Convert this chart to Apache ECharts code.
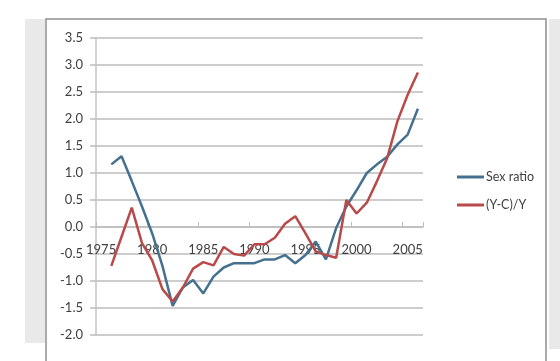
<!DOCTYPE html>
<html>
<head>
<meta charset="utf-8">
<script src="https://cdn.jsdelivr.net/npm/echarts@6/dist/echarts.min.js"></script>
<style>
html,body{margin:0;padding:0;background:#fff;}
#c{width:560px;height:361px;}
</style>
</head>
<body>
<div id="c"></div>
<script>
var years = ['1975','1976','1977','1978','1979','1980','1981','1982','1983','1984','1985','1986','1987','1988','1989','1990','1991','1992','1993','1994','1995','1996','1997','1998','1999','2000','2001','2002','2003','2004','2005','2006'];
var sexRatio = [null, 1.16, 1.31, 0.85, 0.38, -0.12, -0.72, -1.46, -1.12, -0.98, -1.23, -0.92, -0.75, -0.67, -0.67, -0.67, -0.6, -0.6, -0.52, -0.67, -0.52, -0.27, -0.6, -0.02, 0.38, 0.68, 1.0, 1.16, 1.3, 1.53, 1.71, 2.19];
var ycY = [null, -0.72, -0.18, 0.36, -0.3, -0.62, -1.15, -1.38, -1.12, -0.77, -0.65, -0.71, -0.37, -0.5, -0.53, -0.32, -0.32, -0.2, 0.06, 0.2, -0.12, -0.45, -0.52, -0.57, 0.5, 0.25, 0.45, 0.85, 1.28, 1.96, 2.45, 2.86];
var seriesNames = ['Sex ratio', '(Y-C)/Y'];
var yMin = -2, yMax = 3.5;

var gridTop = 38, gridBottom = 26, chartH = 361;
var plotH = chartH - gridTop - gridBottom;
var zeroOffset = -plotH * (0 - yMin) / (yMax - yMin);

var chart = echarts.init(document.getElementById('c'), null, {renderer: 'canvas'});
var font = 'Lato, "Open Sans", sans-serif';
chart.setOption({
  animation: false,
  backgroundColor: '#fff',
  graphic: [
    {type: 'rect', shape: {x: 25, y: 19, width: 20, height: 324}, style: {fill: '#e9e9e9'}, z: -10},
    {type: 'rect', shape: {x: 549, y: 19, width: 11, height: 330}, style: {fill: '#e9e9e9'}, z: -10},
    {type: 'polyline', shape: {points: [[46, 362], [46, 19], [546, 19], [546, 362]]}, style: {stroke: '#8f8f8f', lineWidth: 1.5, fill: null}, z: -5}
  ],
  grid: {left: 96, right: 137, top: gridTop, bottom: gridBottom, containLabel: false},
  legend: {
    orient: 'vertical',
    left: 452,
    top: 164,
    icon: 'rect',
    itemWidth: 27,
    itemHeight: 3,
    itemGap: 12,
    textStyle: {fontFamily: font, fontSize: 12.5, color: '#404040', lineHeight: 16, padding: [0, 0, 0, -3]},
    data: seriesNames
  },
  xAxis: {
    type: 'category',
    data: years,
    boundaryGap: true,
    position: 'bottom',
    offset: zeroOffset,
    axisLine: {onZero: false, lineStyle: {color: '#bdbdbd', width: 1.5}},
    axisTick: {show: true, interval: 4, inside: true, length: 5, lineStyle: {color: '#bdbdbd'}},
    axisLabel: {interval: 4, margin: 16, fontFamily: font, fontSize: 13, color: '#404040'},
    splitLine: {show: false}
  },
  yAxis: {
    type: 'value',
    min: yMin,
    max: yMax,
    interval: 0.5,
    axisLine: {show: true, lineStyle: {color: '#c4c4c4', width: 1.5}},
    axisTick: {show: true, inside: false, length: 6, lineStyle: {color: '#bdbdbd', width: 1.5}},
    axisLabel: {margin: 13, fontFamily: font, fontSize: 13, color: '#404040', formatter: function (v) { return v.toFixed(1); }},
    splitLine: {show: true, lineStyle: {color: '#bdbdbd', width: 1.5}}
  },
  series: [
    {name: seriesNames[0], type: 'line', data: sexRatio, symbol: 'none', itemStyle: {color: '#46708f'}, lineStyle: {color: '#46708f', width: 2.5}, z: 3},
    {name: seriesNames[1], type: 'line', data: ycY, symbol: 'none', itemStyle: {color: '#b94a4a'}, lineStyle: {color: '#b94a4a', width: 2.5}, z: 4}
  ]
});
</script>
</body>
</html>
